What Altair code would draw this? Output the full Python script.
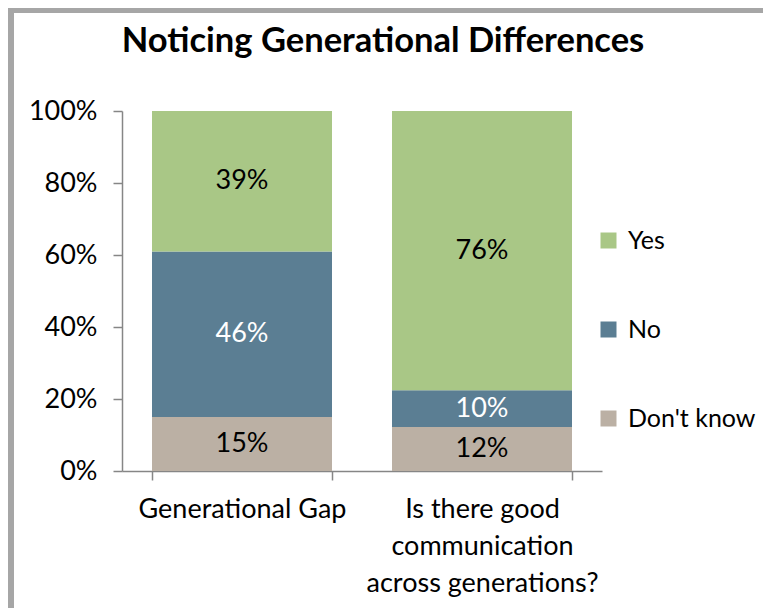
import altair as alt
import pandas as pd

title_text = "Noticing Generational Differences"
categories = ["Generational Gap", "Is there good\ncommunication\nacross generations?"]
responses = ["Yes", "No", "Don't know"]
yes_vals = [39, 76]
no_vals = [46, 10]
dk_vals = [15, 12]
colors = ["#A9C786", "#5B7E93", "#BBB0A4"]
stack_order = {"Don't know": 0, "No": 1, "Yes": 2}

rows = []
for i, c in enumerate(categories):
    for r, vals in zip(responses, [yes_vals, no_vals, dk_vals]):
        rows.append({"cat": c, "response": r, "value": vals[i], "order": stack_order[r]})
df = pd.DataFrame(rows)

FONT = "Lato"
FS = 27

base = alt.Chart(df).transform_stack(
    stack="value", groupby=["cat"], as_=["y0", "y1"], offset="normalize",
    sort=[alt.SortField("order", order="ascending")]
).transform_calculate(
    mid="(datum.y0 + datum.y1) / 2", lbl="datum.value + '%'"
)

xenc = alt.X(
    "cat:N", sort=categories, title=None,
    scale=alt.Scale(paddingInner=0.25, paddingOuter=0.125),
    axis=alt.Axis(
        labelAngle=0, tickBand="extent", tickSize=9, labelPadding=16,
        labelExpr="split(datum.label, '\\n')", labelLineHeight=37,
        labelFontSize=FS, labelFont=FONT, labelColor="black", labelLimit=0,
        domainColor="#868686", tickColor="#868686", domainWidth=1.5, tickWidth=1.5,
    ),
)

bars = base.mark_bar().encode(
    x=xenc,
    y=alt.Y(
        "y0:Q", title=None, scale=alt.Scale(domain=[0, 1], nice=False),
        axis=alt.Axis(
            format=".0%", values=[0, 0.2, 0.4, 0.6, 0.8, 1.0], grid=False,
            tickSize=9, labelPadding=16, labelFontSize=FS, labelFont=FONT,
            labelColor="black", domainColor="#868686", tickColor="#868686",
            domainWidth=1.5, tickWidth=1.5,
        ),
    ),
    y2="y1:Q",
    color=alt.Color(
        "response:N",
        scale=alt.Scale(domain=responses, range=colors),
        legend=alt.Legend(
            title=None, orient="none", legendX=474, legendY=117,
            symbolType="square", symbolSize=256, symbolStrokeWidth=0,
            labelFontSize=25, labelFont=FONT, labelColor="black",
            rowPadding=63, labelOffset=7, labelLimit=0,
        ),
    ),
    order=alt.Order("order:Q"),
)

texts = base.mark_text(fontSize=FS, font=FONT).encode(
    x=alt.X("cat:N", sort=categories),
    y=alt.Y("mid:Q"),
    text="lbl:N",
    color=alt.condition("datum.response == 'No'", alt.value("white"), alt.value("black")),
)

frame_df = pd.DataFrame({"k": [0], "t": [title_text]})
left_border = alt.Chart(frame_df).mark_rect(color="#A6A6A6").encode(
    x=alt.value(-114), x2=alt.value(-108), y=alt.value(-103), y2=alt.value(497)
)
top_border = alt.Chart(frame_df).mark_rect(color="#A6A6A6").encode(
    x=alt.value(-114), x2=alt.value(641), y=alt.value(-103), y2=alt.value(-98)
)
title = alt.Chart(frame_df).mark_text(
    fontSize=34.5, font=FONT, fontWeight="bold", color="black",
    align="center", baseline="alphabetic",
).encode(x=alt.value(261), y=alt.value(-59), text="t:N")

chart = alt.layer(bars, texts, left_border, top_border, title).properties(
    width=480, height=360,
    autosize=alt.AutoSizeParams(type="none"),
    padding={"left": 114, "top": 103, "right": 161, "bottom": 137},
).configure(background="white", view=alt.ViewConfig(stroke=None))

chart.save("out.html", embed_options={"renderer": "svg", "actions": False})
